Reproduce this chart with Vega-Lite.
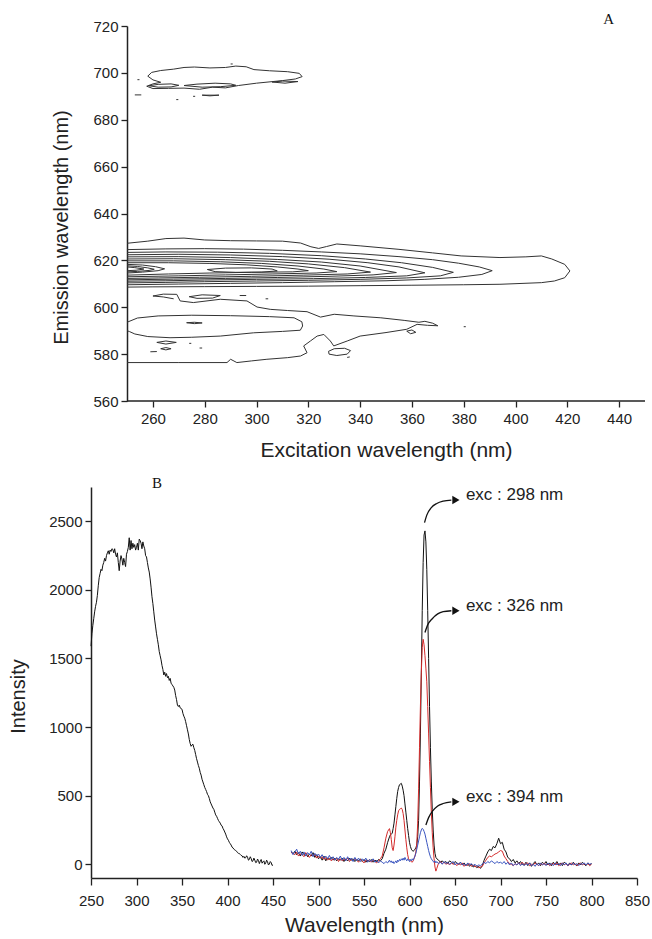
{
"$schema": "https://vega.github.io/schema/vega-lite/v6.json",
"background": "white",
"padding": {"left": 8, "top": 11, "right": 0, "bottom": 0},
"config": {
 "view": {"stroke": null},
 "font": "Liberation Sans",
 "axis": {"grid": false, "domainColor": "#222", "domainWidth": 1.5, "tickColor": "#222", "tickWidth": 1.3, "labelFont": "Liberation Sans", "labelFontSize": 15, "labelColor": "#222", "titleFont": "Liberation Sans", "titleFontSize": 20, "titleFontWeight": "normal", "titleColor": "#222", "labelPadding": 3, "labelOverlap": false, "labelFlush": false}
},
"datasets": {
 "ct": [
  {"c":"M1","x":250,"y":627.3},{"c":"M1","x":258,"y":628.2},{"c":"M1","x":265,"y":629.3},{"c":"M1","x":272,"y":629.5},{"c":"M1","x":280,"y":628.7},{"c":"M1","x":290,"y":628.4},{"c":"M1","x":300,"y":628.3},{"c":"M1","x":310,"y":628.2},{"c":"M1","x":317,"y":627.4},{"c":"M1","x":321,"y":625.8},{"c":"M1","x":324,"y":625.1},{"c":"M1","x":327,"y":625.9},{"c":"M1","x":331,"y":627.0},{"c":"M1","x":340,"y":626.2},{"c":"M1","x":355,"y":624.7},{"c":"M1","x":368,"y":623.2},{"c":"M1","x":379,"y":621.9},{"c":"M1","x":394,"y":621.2},{"c":"M1","x":404,"y":621.5},{"c":"M1","x":410,"y":621.9},{"c":"M1","x":414,"y":620.6},{"c":"M1","x":419,"y":618.3},{"c":"M1","x":421,"y":615.5},{"c":"M1","x":419,"y":612.6},{"c":"M1","x":415,"y":611.2},{"c":"M1","x":410,"y":610.5},{"c":"M1","x":394,"y":609.8},{"c":"M1","x":380,"y":609.6},{"c":"M1","x":360,"y":609.4},{"c":"M1","x":340,"y":609.2},{"c":"M1","x":320,"y":609.0},{"c":"M1","x":300,"y":608.9},{"c":"M1","x":280,"y":608.8},{"c":"M1","x":260,"y":608.7},{"c":"M1","x":250,"y":608.6},
  {"c":"M2","x":250,"y":624.6},{"c":"M2","x":265,"y":624.9},{"c":"M2","x":280,"y":625.0},{"c":"M2","x":295,"y":624.8},{"c":"M2","x":310,"y":624.3},{"c":"M2","x":325,"y":623.6},{"c":"M2","x":340,"y":622.8},{"c":"M2","x":355,"y":621.6},{"c":"M2","x":368,"y":620.3},{"c":"M2","x":378,"y":618.8},{"c":"M2","x":386,"y":617.2},{"c":"M2","x":391,"y":615.6},{"c":"M2","x":387,"y":614.0},{"c":"M2","x":378,"y":612.8},{"c":"M2","x":365,"y":611.9},{"c":"M2","x":350,"y":611.3},{"c":"M2","x":330,"y":610.9},{"c":"M2","x":310,"y":610.5},{"c":"M2","x":290,"y":610.2},{"c":"M2","x":270,"y":609.9},{"c":"M2","x":250,"y":609.6},
  {"c":"M3","x":250,"y":623.4},{"c":"M3","x":265,"y":623.6},{"c":"M3","x":285,"y":623.5},{"c":"M3","x":305,"y":623.0},{"c":"M3","x":325,"y":622.0},{"c":"M3","x":342,"y":620.6},{"c":"M3","x":356,"y":619.0},{"c":"M3","x":368,"y":617.0},{"c":"M3","x":376,"y":614.9},{"c":"M3","x":371,"y":613.4},{"c":"M3","x":358,"y":612.5},{"c":"M3","x":340,"y":611.9},{"c":"M3","x":320,"y":611.5},{"c":"M3","x":300,"y":611.2},{"c":"M3","x":280,"y":610.9},{"c":"M3","x":265,"y":610.6},{"c":"M3","x":250,"y":610.4},
  {"c":"M4","x":250,"y":622.4},{"c":"M4","x":270,"y":622.6},{"c":"M4","x":290,"y":622.3},{"c":"M4","x":310,"y":621.6},{"c":"M4","x":328,"y":620.5},{"c":"M4","x":343,"y":619.0},{"c":"M4","x":355,"y":617.2},{"c":"M4","x":365,"y":614.7},{"c":"M4","x":358,"y":613.4},{"c":"M4","x":342,"y":612.7},{"c":"M4","x":322,"y":612.2},{"c":"M4","x":300,"y":611.9},{"c":"M4","x":280,"y":611.6},{"c":"M4","x":265,"y":611.3},{"c":"M4","x":250,"y":611.1},
  {"c":"M5","x":250,"y":621.5},{"c":"M5","x":270,"y":621.6},{"c":"M5","x":290,"y":621.2},{"c":"M5","x":308,"y":620.4},{"c":"M5","x":325,"y":619.3},{"c":"M5","x":340,"y":617.6},{"c":"M5","x":354,"y":614.8},{"c":"M5","x":345,"y":613.8},{"c":"M5","x":328,"y":613.2},{"c":"M5","x":308,"y":612.7},{"c":"M5","x":288,"y":612.3},{"c":"M5","x":268,"y":612.0},{"c":"M5","x":250,"y":611.7},
  {"c":"M6","x":250,"y":620.6},{"c":"M6","x":268,"y":620.7},{"c":"M6","x":288,"y":620.3},{"c":"M6","x":305,"y":619.6},{"c":"M6","x":320,"y":618.5},{"c":"M6","x":334,"y":616.9},{"c":"M6","x":344,"y":615.0},{"c":"M6","x":335,"y":614.2},{"c":"M6","x":318,"y":613.7},{"c":"M6","x":298,"y":613.2},{"c":"M6","x":278,"y":612.8},{"c":"M6","x":262,"y":612.5},{"c":"M6","x":250,"y":612.3},
  {"c":"M7","x":250,"y":619.8},{"c":"M7","x":268,"y":619.8},{"c":"M7","x":286,"y":619.4},{"c":"M7","x":302,"y":618.7},{"c":"M7","x":316,"y":617.6},{"c":"M7","x":326,"y":616.3},{"c":"M7","x":331,"y":615.2},{"c":"M7","x":323,"y":614.6},{"c":"M7","x":306,"y":614.2},{"c":"M7","x":288,"y":613.8},{"c":"M7","x":270,"y":613.4},{"c":"M7","x":250,"y":613.0},
  {"c":"M8","x":250,"y":619.0},{"c":"M8","x":266,"y":619.0},{"c":"M8","x":282,"y":618.7},{"c":"M8","x":296,"y":618.1},{"c":"M8","x":308,"y":617.2},{"c":"M8","x":316,"y":616.3},{"c":"M8","x":320,"y":615.6},{"c":"M8","x":314,"y":615.1},{"c":"M8","x":298,"y":614.9},{"c":"M8","x":282,"y":614.6},{"c":"M8","x":266,"y":614.2},{"c":"M8","x":250,"y":613.7},
  {"c":"L1","x":250,"y":618.3},{"c":"L1","x":256,"y":618.0},{"c":"L1","x":261,"y":617.3},{"c":"L1","x":264.5,"y":616.4},{"c":"L1","x":262,"y":615.6},{"c":"L1","x":256,"y":615.0},{"c":"L1","x":250,"y":614.6},
  {"c":"L2","x":250,"y":617.7},{"c":"L2","x":254,"y":617.4},{"c":"L2","x":258,"y":616.8},{"c":"L2","x":260.5,"y":616.2},{"c":"L2","x":258.5,"y":615.7},{"c":"L2","x":254,"y":615.3},{"c":"L2","x":250,"y":615.1},
  {"c":"L3","x":250,"y":617.2},{"c":"L3","x":253,"y":616.9},{"c":"L3","x":256.5,"y":616.3},{"c":"L3","x":253.5,"y":615.8},{"c":"L3","x":250,"y":615.6},
  {"c":"I1","x":281,"y":616.1},{"c":"I1","x":288,"y":616.7},{"c":"I1","x":298,"y":616.8},{"c":"I1","x":306,"y":616.3},{"c":"I1","x":308,"y":615.5},{"c":"I1","x":302,"y":615.0},{"c":"I1","x":292,"y":614.9},{"c":"I1","x":284,"y":615.2},{"c":"I1","x":281,"y":616.1},
  {"c":"CL","x":250,"y":576.4},{"c":"CL","x":270,"y":576.4},{"c":"CL","x":288.6,"y":576.4},{"c":"CL","x":290,"y":577.8},{"c":"CL","x":292.4,"y":576.4},{"c":"CL","x":298,"y":577.1},{"c":"CL","x":304,"y":577.8},{"c":"CL","x":312,"y":578.5},{"c":"CL","x":317,"y":579.2},{"c":"CL","x":319.5,"y":580.6},{"c":"CL","x":318.2,"y":583.5},{"c":"CL","x":320.8,"y":585.6},{"c":"CL","x":323.4,"y":587.7},{"c":"CL","x":326,"y":588.4},{"c":"CL","x":328.5,"y":585.6},{"c":"CL","x":329.8,"y":583.5},{"c":"CL","x":335,"y":585.6},{"c":"CL","x":340,"y":587.7},{"c":"CL","x":350,"y":589.2},{"c":"CL","x":358,"y":590.6},{"c":"CL","x":362,"y":592.7},{"c":"CL","x":366,"y":592.3},{"c":"CL","x":370,"y":592.1},{"c":"CL","x":368,"y":593.2},{"c":"CL","x":365,"y":594.0},{"c":"CL","x":362.7,"y":593.6},{"c":"CL","x":357,"y":594.4},{"c":"CL","x":348,"y":595.5},{"c":"CL","x":337.6,"y":596.3},{"c":"CL","x":330,"y":597.0},{"c":"CL","x":324.7,"y":595.8},{"c":"CL","x":319.5,"y":598.1},{"c":"CL","x":312,"y":598.6},{"c":"CL","x":305.3,"y":599.1},{"c":"CL","x":300.2,"y":600.1},{"c":"CL","x":296.3,"y":602.7},{"c":"CL","x":286,"y":603.4},{"c":"CL","x":275.6,"y":602.0},{"c":"CL","x":270.5,"y":602.7},{"c":"CL","x":269.2,"y":605.5},{"c":"CL","x":264,"y":605.6},{"c":"CL","x":260,"y":604.8},{"c":"CL","x":264,"y":604.4},{"c":"CL","x":268,"y":603.6},
  {"c":"LB","x":250,"y":593.6},{"c":"LB","x":254,"y":595.4},{"c":"LB","x":262,"y":596.3},{"c":"LB","x":275,"y":596.6},{"c":"LB","x":290,"y":596.4},{"c":"LB","x":305,"y":596.0},{"c":"LB","x":314.5,"y":595.5},{"c":"LB","x":317.5,"y":593.8},{"c":"LB","x":317.8,"y":592.0},{"c":"LB","x":316.9,"y":590.2},{"c":"LB","x":310,"y":589.7},{"c":"LB","x":298.9,"y":589.1},{"c":"LB","x":286,"y":587.7},{"c":"LB","x":275,"y":587.2},{"c":"LB","x":266.6,"y":587.0},{"c":"LB","x":258,"y":587.5},{"c":"LB","x":253,"y":588.6},{"c":"LB","x":251,"y":589.6},{"c":"LB","x":250,"y":590.0},
  {"c":"d1","x":273,"y":593.4},{"c":"d1","x":276,"y":593.6},{"c":"d1","x":279,"y":593.3},{"c":"d1","x":276,"y":593.0},{"c":"d1","x":273,"y":593.4},
  {"c":"d2","x":261.5,"y":585.0},{"c":"d2","x":265,"y":585.6},{"c":"d2","x":269,"y":585.0},{"c":"d2","x":265,"y":584.3},{"c":"d2","x":261.5,"y":585.0},
  {"c":"d3","x":263,"y":582.3},{"c":"d3","x":265,"y":582.8},{"c":"d3","x":267,"y":582.3},{"c":"d3","x":265,"y":581.8},{"c":"d3","x":263,"y":582.3},
  {"c":"d4","x":259,"y":581.0},{"c":"d4","x":261.5,"y":581.1},
  {"c":"d5","x":274,"y":584.6},{"c":"d5","x":274.8,"y":584.6},
  {"c":"d6","x":278,"y":582.6},{"c":"d6","x":279,"y":582.6},
  {"c":"d7","x":327.8,"y":581.2},{"c":"d7","x":330,"y":582.3},{"c":"d7","x":334,"y":582.5},{"c":"d7","x":336.3,"y":581.5},{"c":"d7","x":335,"y":580.0},{"c":"d7","x":331,"y":579.4},{"c":"d7","x":328,"y":580.0},{"c":"d7","x":327.8,"y":581.2},
  {"c":"d8","x":335,"y":578.6},{"c":"d8","x":336,"y":578.8},
  {"c":"d9","x":358,"y":589.8},{"c":"d9","x":360,"y":590.3},{"c":"d9","x":361.5,"y":589.3},{"c":"d9","x":359.5,"y":588.7},{"c":"d9","x":358,"y":589.8},
  {"c":"d10","x":380,"y":591.7},{"c":"d10","x":380.8,"y":591.7},
  {"c":"d11","x":274,"y":604.5},{"c":"d11","x":279,"y":605.3},{"c":"d11","x":286,"y":605.0},{"c":"d11","x":283,"y":603.9},{"c":"d11","x":277,"y":603.8},{"c":"d11","x":274,"y":604.5},
  {"c":"d12","x":293.5,"y":605.0},{"c":"d12","x":296,"y":605.0},
  {"c":"d13","x":303.5,"y":603.6},{"c":"d13","x":304.5,"y":603.6},
  {"c":"T1","x":258,"y":698.6},{"c":"T1","x":259.5,"y":700.2},{"c":"T1","x":263,"y":701.0},{"c":"T1","x":268,"y":701.6},{"c":"T1","x":272,"y":702.3},{"c":"T1","x":276,"y":702.5},{"c":"T1","x":282,"y":702.1},{"c":"T1","x":288,"y":702.3},{"c":"T1","x":292,"y":702.9},{"c":"T1","x":296,"y":702.6},{"c":"T1","x":299,"y":701.4},{"c":"T1","x":305,"y":700.9},{"c":"T1","x":312,"y":700.5},{"c":"T1","x":316.5,"y":699.8},{"c":"T1","x":317.6,"y":698.4},{"c":"T1","x":315,"y":697.4},{"c":"T1","x":310,"y":696.7},{"c":"T1","x":300,"y":695.6},{"c":"T1","x":293,"y":694.6},{"c":"T1","x":288,"y":693.6},{"c":"T1","x":283,"y":693.9},{"c":"T1","x":278,"y":693.0},{"c":"T1","x":272,"y":693.5},{"c":"T1","x":266,"y":693.4},{"c":"T1","x":260,"y":693.3},{"c":"T1","x":257.6,"y":694.3},{"c":"T1","x":260,"y":695.3},{"c":"T1","x":263,"y":696.0},{"c":"T1","x":260,"y":697.0},{"c":"T1","x":258,"y":698.6},
  {"c":"Ta","x":258.5,"y":694.5},{"c":"Ta","x":262,"y":695.1},{"c":"Ta","x":267,"y":695.3},{"c":"Ta","x":270,"y":694.7},{"c":"Ta","x":267,"y":694.0},{"c":"Ta","x":262,"y":693.9},{"c":"Ta","x":258.5,"y":694.5},
  {"c":"Tb","x":272,"y":694.6},{"c":"Tb","x":277,"y":695.2},{"c":"Tb","x":284,"y":695.6},{"c":"Tb","x":290,"y":695.3},{"c":"Tb","x":292,"y":694.7},{"c":"Tb","x":286,"y":694.1},{"c":"Tb","x":279,"y":693.9},{"c":"Tb","x":272,"y":694.6},
  {"c":"Tc","x":306,"y":696.1},{"c":"Tc","x":310,"y":696.5},{"c":"Tc","x":316,"y":696.3},{"c":"Tc","x":311,"y":695.6},{"c":"Tc","x":306,"y":696.1},
  {"c":"t1","x":254,"y":697.1},{"c":"t1","x":254.8,"y":697.1},
  {"c":"t2","x":253,"y":690.6},{"c":"t2","x":255.5,"y":690.6},
  {"c":"t3","x":269,"y":688.6},{"c":"t3","x":269.8,"y":688.6},
  {"c":"t4","x":275.5,"y":690.0},{"c":"t4","x":276.3,"y":690.0},
  {"c":"t5","x":279,"y":690.5},{"c":"t5","x":285.5,"y":690.5},{"c":"t5","x":282,"y":690.2},{"c":"t5","x":279,"y":690.5},
  {"c":"t6","x":290,"y":703.8},{"c":"t6","x":290.8,"y":703.8}
 ],
 "ex": [
  {"x":250,"v":1590},{"x":251,"v":1680},{"x":252,"v":1740},{"x":253,"v":1790},{"x":254,"v":1840},{"x":255,"v":1880},{"x":256,"v":1910},{"x":257,"v":1960},{"x":258,"v":2030},{"x":259,"v":2090},{"x":260,"v":2120},{"x":261,"v":2150},{"x":262,"v":2140},{"x":263,"v":2180},{"x":264,"v":2200},{"x":265,"v":2230},{"x":266,"v":2210},{"x":267,"v":2250},{"x":268,"v":2270},{"x":269,"v":2285},{"x":270,"v":2260},{"x":271,"v":2290},{"x":272,"v":2280},{"x":273,"v":2300},{"x":274,"v":2295},{"x":275,"v":2270},{"x":276,"v":2300},{"x":277,"v":2260},{"x":278,"v":2240},{"x":279,"v":2270},{"x":280,"v":2200},{"x":281,"v":2140},{"x":282,"v":2210},{"x":283,"v":2250},{"x":284,"v":2225},{"x":285,"v":2180},{"x":286,"v":2230},{"x":287,"v":2200},{"x":288,"v":2170},{"x":289,"v":2260},{"x":290,"v":2280},{"x":291,"v":2310},{"x":292,"v":2380},{"x":293,"v":2290},{"x":294,"v":2360},{"x":295,"v":2300},{"x":296,"v":2340},{"x":297,"v":2310},{"x":298,"v":2330},{"x":299,"v":2290},{"x":300,"v":2310},{"x":301,"v":2340},{"x":302,"v":2290},{"x":303,"v":2370},{"x":304,"v":2360},{"x":305,"v":2340},{"x":306,"v":2300},{"x":307,"v":2350},{"x":308,"v":2320},{"x":309,"v":2300},{"x":310,"v":2250},{"x":311,"v":2240},{"x":312,"v":2200},{"x":313,"v":2160},{"x":314,"v":2130},{"x":315,"v":2080},{"x":316,"v":2020},{"x":317,"v":1950},{"x":318,"v":1900},{"x":319,"v":1840},{"x":320,"v":1780},{"x":321,"v":1730},{"x":322,"v":1680},{"x":323,"v":1640},{"x":324,"v":1600},{"x":325,"v":1550},{"x":326,"v":1520},{"x":327,"v":1490},{"x":328,"v":1450},{"x":329,"v":1420},{"x":330,"v":1380},{"x":331,"v":1400},{"x":332,"v":1370},{"x":333,"v":1390},{"x":334,"v":1360},{"x":335,"v":1370},{"x":336,"v":1340},{"x":337,"v":1355},{"x":338,"v":1320},{"x":339,"v":1310},{"x":340,"v":1300},{"x":341,"v":1290},{"x":342,"v":1270},{"x":343,"v":1230},{"x":344,"v":1200},{"x":345,"v":1160},{"x":346,"v":1150},{"x":347,"v":1160},{"x":348,"v":1140},{"x":349,"v":1135},{"x":350,"v":1130},{"x":351,"v":1100},{"x":352,"v":1080},{"x":353,"v":1065},{"x":354,"v":1040},{"x":355,"v":1010},{"x":356,"v":980},{"x":357,"v":950},{"x":358,"v":910},{"x":359,"v":880},{"x":360,"v":860},{"x":361,"v":870},{"x":362,"v":875},{"x":363,"v":850},{"x":364,"v":830},{"x":365,"v":800},{"x":366,"v":770},{"x":367,"v":745},{"x":368,"v":720},{"x":369,"v":700},{"x":370,"v":670},{"x":371,"v":650},{"x":372,"v":620},{"x":373,"v":600},{"x":374,"v":580},{"x":375,"v":560},{"x":376,"v":545},{"x":377,"v":530},{"x":378,"v":510},{"x":379,"v":500},{"x":380,"v":480},{"x":381,"v":455},{"x":382,"v":440},{"x":383,"v":425},{"x":384,"v":410},{"x":385,"v":400},{"x":386,"v":380},{"x":387,"v":360},{"x":388,"v":350},{"x":389,"v":335},{"x":390,"v":320},{"x":391,"v":310},{"x":392,"v":300},{"x":393,"v":285},{"x":394,"v":280},{"x":395,"v":262},{"x":396,"v":250},{"x":397,"v":235},{"x":398,"v":220},{"x":399,"v":200},{"x":400,"v":185},{"x":401,"v":175},{"x":402,"v":160},{"x":403,"v":150},{"x":404,"v":140},{"x":405,"v":125},{"x":406,"v":120},{"x":407,"v":110},{"x":408,"v":105},{"x":409,"v":100},{"x":410,"v":95},{"x":411,"v":85},{"x":412,"v":80},{"x":413,"v":78},{"x":414,"v":72},{"x":415,"v":65},{"x":416,"v":62},{"x":417,"v":50},{"x":418,"v":58},{"x":419,"v":45},{"x":420,"v":48},{"x":421,"v":62},{"x":422,"v":52},{"x":423,"v":30},{"x":424,"v":35},{"x":425,"v":55},{"x":426,"v":42},{"x":427,"v":20},{"x":428,"v":25},{"x":429,"v":45},{"x":430,"v":30},{"x":431,"v":12},{"x":432,"v":15},{"x":433,"v":38},{"x":434,"v":28},{"x":435,"v":5},{"x":436,"v":22},{"x":437,"v":35},{"x":438,"v":8},{"x":439,"v":18},{"x":440,"v":25},{"x":441,"v":0},{"x":442,"v":10},{"x":443,"v":30},{"x":444,"v":18},{"x":445,"v":-5},{"x":446,"v":2},{"x":447,"v":20},{"x":448,"v":12},{"x":449,"v":-8},{"x":450,"v":-5}
 ],
 "em": [
  {"x":470,"k":90,"r":85,"b":100},{"x":472,"k":75,"r":80,"b":70},{"x":474,"k":95,"r":70,"b":90},{"x":476,"k":70,"r":90,"b":110},{"x":478,"k":85,"r":60,"b":75},{"x":480,"k":60,"r":75,"b":95},{"x":482,"k":90,"r":70,"b":65},{"x":484,"k":70,"r":55,"b":90},{"x":486,"k":80,"r":85,"b":60},{"x":488,"k":55,"r":65,"b":85},{"x":490,"k":75,"r":50,"b":70},{"x":492,"k":60,"r":70,"b":95},{"x":494,"k":85,"r":60,"b":55},{"x":496,"k":50,"r":75,"b":80},{"x":498,"k":70,"r":45,"b":60},{"x":500,"k":40,"r":60,"b":75},{"x":502,"k":55,"r":45,"b":50},{"x":504,"k":30,"r":55,"b":70},{"x":506,"k":60,"r":35,"b":45},{"x":508,"k":25,"r":50,"b":60},{"x":510,"k":45,"r":30,"b":40},{"x":512,"k":35,"r":45,"b":65},{"x":514,"k":50,"r":25,"b":35},{"x":516,"k":30,"r":40,"b":55},{"x":518,"k":45,"r":30,"b":30},{"x":520,"k":25,"r":45,"b":50},{"x":522,"k":40,"r":20,"b":35},{"x":524,"k":30,"r":40,"b":60},{"x":526,"k":45,"r":25,"b":30},{"x":528,"k":20,"r":35,"b":50},{"x":530,"k":40,"r":30,"b":25},{"x":532,"k":25,"r":45,"b":55},{"x":534,"k":45,"r":20,"b":30},{"x":536,"k":30,"r":35,"b":45},{"x":538,"k":40,"r":25,"b":20},{"x":540,"k":20,"r":40,"b":50},{"x":542,"k":35,"r":30,"b":25},{"x":544,"k":25,"r":15,"b":45},{"x":546,"k":40,"r":35,"b":20},{"x":548,"k":20,"r":25,"b":40},{"x":550,"k":35,"r":10,"b":25},{"x":552,"k":15,"r":30,"b":45},{"x":554,"k":30,"r":20,"b":15},{"x":556,"k":20,"r":35,"b":35},{"x":558,"k":35,"r":15,"b":20},{"x":560,"k":15,"r":30,"b":40},{"x":562,"k":30,"r":20,"b":15},{"x":564,"k":20,"r":10,"b":30},{"x":566,"k":35,"r":25,"b":10},{"x":568,"k":25,"r":40,"b":25},{"x":570,"k":40,"r":60,"b":15},{"x":572,"k":80,"r":120,"b":5},{"x":574,"k":110,"r":190,"b":20},{"x":576,"k":160,"r":240,"b":10},{"x":578,"k":200,"r":260,"b":30},{"x":579,"k":215,"r":230,"b":15},{"x":580,"k":220,"r":180,"b":25},{"x":581,"k":225,"r":120,"b":10},{"x":582,"k":260,"r":100,"b":20},{"x":583,"k":300,"r":140,"b":5},{"x":584,"k":360,"r":200,"b":15},{"x":585,"k":420,"r":270,"b":25},{"x":586,"k":480,"r":320,"b":10},{"x":587,"k":530,"r":360,"b":30},{"x":588,"k":560,"r":390,"b":20},{"x":589,"k":580,"r":400,"b":35},{"x":590,"k":585,"r":405,"b":25},{"x":591,"k":590,"r":410,"b":40},{"x":592,"k":570,"r":400,"b":30},{"x":593,"k":540,"r":370,"b":45},{"x":594,"k":500,"r":320,"b":30},{"x":595,"k":440,"r":250,"b":50},{"x":596,"k":380,"r":180,"b":35},{"x":597,"k":320,"r":120,"b":25},{"x":598,"k":260,"r":70,"b":40},{"x":599,"k":210,"r":40,"b":30},{"x":600,"k":160,"r":30,"b":20},{"x":601,"k":130,"r":25,"b":35},{"x":602,"k":110,"r":20,"b":25},{"x":603,"k":100,"r":15,"b":40},{"x":604,"k":95,"r":25,"b":30},{"x":605,"k":100,"r":40,"b":45},{"x":606,"k":110,"r":60,"b":60},{"x":607,"k":120,"r":90,"b":80},{"x":608,"k":140,"r":150,"b":110},{"x":609,"k":200,"r":300,"b":140},{"x":610,"k":320,"r":550,"b":170},{"x":611,"k":600,"r":850,"b":200},{"x":612,"k":950,"r":1150,"b":230},{"x":613,"k":1400,"r":1400,"b":250},{"x":614,"k":1850,"r":1580,"b":262},{"x":615,"k":2200,"r":1640,"b":255},{"x":616,"k":2400,"r":1600,"b":240},{"x":617,"k":2430,"r":1520,"b":220},{"x":618,"k":2350,"r":1430,"b":190},{"x":619,"k":2150,"r":1330,"b":160},{"x":620,"k":1850,"r":1150,"b":130},{"x":621,"k":1500,"r":950,"b":100},{"x":622,"k":1150,"r":750,"b":75},{"x":623,"k":850,"r":560,"b":55},{"x":624,"k":600,"r":380,"b":40},{"x":625,"k":400,"r":230,"b":30},{"x":626,"k":250,"r":120,"b":20},{"x":627,"k":140,"r":40,"b":15},{"x":628,"k":80,"r":-20,"b":25},{"x":629,"k":50,"r":-50,"b":10},{"x":630,"k":40,"r":-30,"b":20},{"x":632,"k":30,"r":10,"b":5},{"x":634,"k":15,"r":20,"b":15},{"x":636,"k":25,"r":5,"b":0},{"x":638,"k":10,"r":15,"b":20},{"x":640,"k":20,"r":0,"b":5},{"x":642,"k":5,"r":10,"b":15},{"x":644,"k":25,"r":-5,"b":0},{"x":646,"k":15,"r":10,"b":10},{"x":648,"k":5,"r":0,"b":20},{"x":650,"k":20,"r":5,"b":-5},{"x":652,"k":10,"r":-10,"b":10},{"x":654,"k":0,"r":5,"b":0},{"x":656,"k":15,"r":-5,"b":15},{"x":658,"k":-5,"r":10,"b":-5},{"x":660,"k":10,"r":-15,"b":5},{"x":662,"k":-10,"r":0,"b":-10},{"x":664,"k":5,"r":-10,"b":10},{"x":666,"k":-15,"r":5,"b":-5},{"x":668,"k":0,"r":-15,"b":5},{"x":670,"k":-20,"r":-5,"b":-10},{"x":672,"k":-10,"r":-20,"b":0},{"x":674,"k":-25,"r":-10,"b":-15},{"x":676,"k":-15,"r":-25,"b":-5},{"x":678,"k":-30,"r":-20,"b":-10},{"x":680,"k":-10,"r":-15,"b":0},{"x":682,"k":30,"r":10,"b":15},{"x":684,"k":60,"r":30,"b":5},{"x":686,"k":90,"r":50,"b":20},{"x":688,"k":110,"r":60,"b":10},{"x":690,"k":100,"r":55,"b":25},{"x":692,"k":130,"r":65,"b":15},{"x":694,"k":120,"r":75,"b":5},{"x":696,"k":150,"r":80,"b":20},{"x":698,"k":190,"r":90,"b":10},{"x":700,"k":150,"r":100,"b":15},{"x":702,"k":160,"r":95,"b":5},{"x":704,"k":110,"r":60,"b":20},{"x":706,"k":90,"r":40,"b":0},{"x":708,"k":50,"r":20,"b":15},{"x":710,"k":40,"r":5,"b":-5},{"x":712,"k":20,"r":0,"b":10},{"x":714,"k":35,"r":-10,"b":-10},{"x":716,"k":10,"r":5,"b":5},{"x":718,"k":25,"r":-5,"b":-5},{"x":720,"k":5,"r":10,"b":10},{"x":722,"k":20,"r":0,"b":-10},{"x":724,"k":0,"r":15,"b":5},{"x":726,"k":-5,"r":-5,"b":-10},{"x":728,"k":15,"r":5,"b":5},{"x":730,"k":-10,"r":10,"b":-5},{"x":732,"k":10,"r":-10,"b":10},{"x":734,"k":-15,"r":0,"b":-10},{"x":736,"k":5,"r":-5,"b":0},{"x":738,"k":20,"r":10,"b":-15},{"x":740,"k":-5,"r":0,"b":5},{"x":742,"k":10,"r":-10,"b":-10},{"x":744,"k":-10,"r":5,"b":10},{"x":746,"k":15,"r":-5,"b":-5},{"x":748,"k":0,"r":10,"b":5},{"x":750,"k":20,"r":-5,"b":-10},{"x":752,"k":-5,"r":5,"b":10},{"x":754,"k":10,"r":-10,"b":-5},{"x":756,"k":-10,"r":0,"b":5},{"x":758,"k":15,"r":5,"b":-10},{"x":760,"k":0,"r":-5,"b":10},{"x":762,"k":20,"r":10,"b":-5},{"x":764,"k":-5,"r":-10,"b":5},{"x":766,"k":10,"r":0,"b":-10},{"x":768,"k":-10,"r":10,"b":10},{"x":770,"k":15,"r":-5,"b":-5},{"x":772,"k":5,"r":5,"b":10},{"x":774,"k":-10,"r":-10,"b":-10},{"x":776,"k":10,"r":0,"b":5},{"x":778,"k":-5,"r":10,"b":-5},{"x":780,"k":15,"r":-5,"b":10},{"x":782,"k":0,"r":5,"b":-5},{"x":784,"k":-10,"r":-10,"b":5},{"x":786,"k":10,"r":0,"b":-10},{"x":788,"k":-5,"r":10,"b":5},{"x":790,"k":15,"r":-5,"b":0},{"x":792,"k":0,"r":5,"b":10},{"x":794,"k":-10,"r":-5,"b":-5},{"x":796,"k":10,"r":5,"b":10},{"x":798,"k":-5,"r":-10,"b":0},{"x":800,"k":5,"r":0,"b":5}
 ],
 "arr": [
  {"a":1,"x":616.5,"y":2490},{"a":1,"x":619,"y":2545},{"a":1,"x":624,"y":2600},{"a":1,"x":630,"y":2630},{"a":1,"x":637,"y":2647},{"a":1,"x":646,"y":2655},
  {"a":2,"x":617,"y":1690},{"a":2,"x":620,"y":1745},{"a":2,"x":625,"y":1790},{"a":2,"x":631,"y":1825},{"a":2,"x":637,"y":1841},{"a":2,"x":646,"y":1848},
  {"a":3,"x":618,"y":286},{"a":3,"x":621,"y":340},{"a":3,"x":625,"y":385},{"a":3,"x":631,"y":425},{"a":3,"x":637,"y":443},{"a":3,"x":646,"y":455}
 ],
 "lab": [
  {"x":651,"y":2655,"tx":662,"ty":2689,"t":"exc : 298 nm"},
  {"x":651,"y":1848,"tx":662,"ty":1882,"t":"exc : 326 nm"},
  {"x":651,"y":455,"tx":662,"ty":487,"t":"exc : 394 nm"}
 ],
 "panA": [{"x":436,"y":723,"t":"A"}],
 "axA": [{"x":250,"x2":450,"y":560}],
 "panB": [{"x":322.5,"y":2776,"t":"B"}]
},
"spacing": 16,
"vconcat": [
 {
  "width": 554,
  "height": 375,
  "layer": [
   {
    "data": {"name": "ct"},
    "mark": {"type": "line", "stroke": "#333", "strokeWidth": 1, "clip": true},
    "encoding": {
     "x": {"field": "x", "type": "quantitative", "title": "Excitation wavelength (nm)", "scale": {"domain": [236.08, 450], "nice": false, "zero": false},
      "axis": {"values": [260,270,280,290,300,310,320,330,340,350,360,370,380,390,400,410,420,430,440,450], "labelExpr": "datum.value % 20 === 0 ? datum.label : ''", "labelOverlap": false, "domain": false, "tickSize": 6, "labelPadding": 4, "titlePadding": 13, "titleX": 295, "titleFontSize": 21}},
     "y": {"field": "y", "type": "quantitative", "title": "Emission wavelength (nm)", "scale": {"domain": [560, 720], "nice": false, "zero": false},
      "axis": {"values": [560,570,580,590,600,610,620,630,640,650,660,670,680,690,700,710,720], "labelExpr": "datum.value % 20 === 0 ? datum.label : ''", "labelOverlap": false, "offset": -36, "tickSize": 6, "titlePadding": 21, "titleY": 201}},
     "detail": {"field": "c"},
     "order": {"value": null}
    }
   },
   {
    "data": {"name": "axA"},
    "mark": {"type": "rule", "color": "#222", "strokeWidth": 1.5},
    "encoding": {"x": {"field": "x", "type": "quantitative"}, "x2": {"field": "x2"}, "y": {"field": "y", "type": "quantitative"}}
   },
   {
    "data": {"name": "panA"},
    "mark": {"type": "text", "font": "Liberation Serif", "fontSize": 15, "color": "#111", "clip": false},
    "encoding": {"x": {"field": "x", "type": "quantitative"}, "y": {"field": "y", "type": "quantitative"}, "text": {"field": "t"}}
   }
  ]
 },
 {
  "width": 546,
  "height": 391,
  "layer": [
   {
    "data": {"name": "ex"},
    "mark": {"type": "line", "stroke": "#111", "strokeWidth": 1},
    "encoding": {
     "x": {"field": "x", "type": "quantitative", "title": "Wavelength (nm)", "scale": {"domain": [250, 850], "nice": false, "zero": false},
      "axis": {"values": [250,275,300,325,350,375,400,425,450,475,500,525,550,575,600,625,650,675,700,725,750,775,800,825,850], "labelExpr": "datum.value % 50 === 0 ? datum.label : ''", "tickSize": 7, "labelPadding": 8, "titlePadding": 6, "titleFontSize": 21}},
     "y": {"field": "v", "type": "quantitative", "title": "Intensity", "scale": {"domain": [-100, 2750], "nice": false, "zero": false},
      "axis": {"values": [0,250,500,750,1000,1250,1500,1750,2000,2250,2500], "format": "d", "labelExpr": "datum.value % 500 === 0 ? datum.label : ''", "tickSize": 6, "titlePadding": 20, "titleY": 209}}
    }
   },
   {
    "data": {"name": "em"},
    "mark": {"type": "line", "stroke": "#111", "strokeWidth": 1},
    "encoding": {"x": {"field": "x", "type": "quantitative", "title": "Wavelength (nm)"}, "y": {"field": "k", "type": "quantitative", "title": "Intensity"}}
   },
   {
    "data": {"name": "em"},
    "mark": {"type": "line", "stroke": "#d42a2a", "strokeWidth": 1},
    "encoding": {"x": {"field": "x", "type": "quantitative", "title": "Wavelength (nm)"}, "y": {"field": "r", "type": "quantitative", "title": "Intensity"}}
   },
   {
    "data": {"name": "em"},
    "mark": {"type": "line", "stroke": "#3a55c0", "strokeWidth": 1},
    "encoding": {"x": {"field": "x", "type": "quantitative", "title": "Wavelength (nm)"}, "y": {"field": "b", "type": "quantitative", "title": "Intensity"}}
   },
   {
    "data": {"name": "arr"},
    "mark": {"type": "line", "stroke": "#111", "strokeWidth": 1.3, "interpolate": "monotone"},
    "encoding": {"x": {"field": "x", "type": "quantitative", "title": "Wavelength (nm)"}, "y": {"field": "y", "type": "quantitative", "title": "Intensity"}, "detail": {"field": "a"}}
   },
   {
    "data": {"name": "lab"},
    "mark": {"type": "point", "shape": "triangle-right", "filled": true, "color": "#111", "size": 70, "opacity": 1},
    "encoding": {"x": {"field": "x", "type": "quantitative", "title": "Wavelength (nm)"}, "y": {"field": "y", "type": "quantitative", "title": "Intensity"}}
   },
   {
    "data": {"name": "lab"},
    "mark": {"type": "text", "align": "left", "baseline": "middle", "font": "Liberation Sans", "fontSize": 17, "color": "#222"},
    "encoding": {"x": {"field": "tx", "type": "quantitative", "title": "Wavelength (nm)"}, "y": {"field": "ty", "type": "quantitative", "title": "Intensity"}, "text": {"field": "t"}}
   },
   {
    "data": {"name": "panB"},
    "mark": {"type": "text", "font": "Liberation Serif", "fontSize": 15, "color": "#111", "clip": false},
    "encoding": {"x": {"field": "x", "type": "quantitative", "title": "Wavelength (nm)"}, "y": {"field": "y", "type": "quantitative", "title": "Intensity"}, "text": {"field": "t"}}
   }
  ]
 }
]
}
